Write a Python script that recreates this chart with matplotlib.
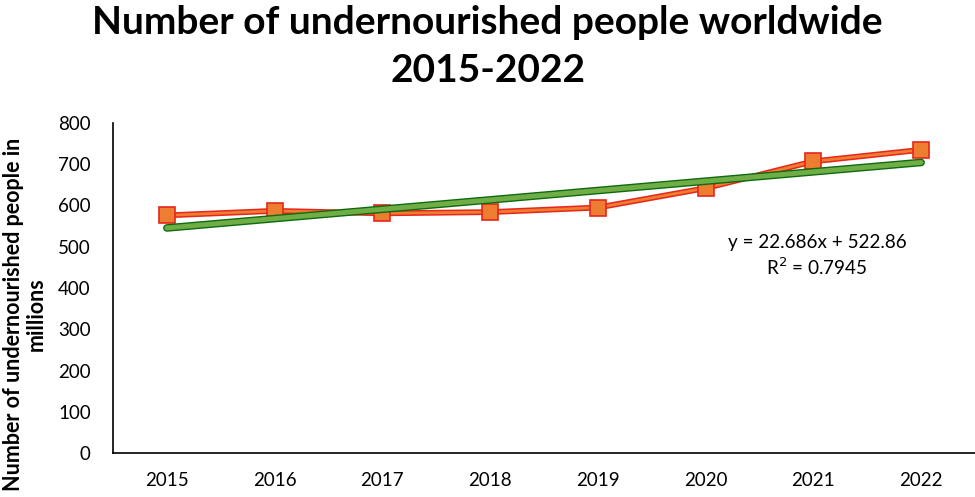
import matplotlib
matplotlib.use("Agg")
import matplotlib.pyplot as plt
import numpy as np

# data (millions)
years = ["2015", "2016", "2017", "2018", "2019", "2020", "2021", "2022"]
people = [576, 587, 581, 584, 595, 642, 707, 735]
# linear trendline as printed on the chart
trend_slope = 22.686
trend_intercept = 522.86

plt.rcParams['font.family'] = ['Lato', 'DejaVu Sans']

fig = plt.figure(figsize=(9.75, 4.97), dpi=100)
ax = fig.add_axes([113/975, 1-453/497, 1-113/975, (453-123)/497])

x = np.arange(len(years))
# series: red outline with orange core, square markers
ax.plot(x, people, color='#E8261C', lw=4.2, solid_capstyle='butt', zorder=2)
ax.plot(x, people, color='#ED7D31', lw=2.0, marker='s', markersize=12,
        markerfacecolor='#ED7D31', markeredgecolor='#E8261C', markeredgewidth=1.2, zorder=3)

# trendline
xt = np.array([0, len(years) - 1])
yt = trend_slope * (xt + 1) + trend_intercept
ax.plot(xt, yt, color='#0E6B0E', lw=5.5, solid_capstyle='round', zorder=4)
ax.plot(xt, yt, color='#70AD47', lw=3.5, solid_capstyle='round', zorder=5)

ax.set_xlim(-0.5, len(years) - 0.5)
ax.set_ylim(0, 800)
ax.set_yticks(range(0, 801, 100))
ax.set_xticks(x)
ax.set_xticklabels(years)
ax.tick_params(axis='both', length=0, labelsize=13.5)
ax.tick_params(axis='y', pad=16)
ax.tick_params(axis='x', pad=14)
for s in ['top', 'right']:
    ax.spines[s].set_visible(False)
for s in ['left', 'bottom']:
    ax.spines[s].set_linewidth(1.2)
    ax.spines[s].set_color('black')

ax.text((817-113)/(975-113), 1-(256-123)/330,
        "y = 22.686x + 522.86\nR$^2$ = 0.7945", transform=ax.transAxes,
        ha='center', va='center', fontsize=13.6, linespacing=1.3)

fig.text(0.5, 1-22/497, "Number of undernourished people worldwide",
         ha='center', va='center', fontsize=28, fontweight='bold')
fig.text(0.5, 1-70/497, "2015-2022",
         ha='center', va='center', fontsize=28, fontweight='bold')

fig.text(25/975, 1-314/497, "Number of undernourished people in\nmillions",
         rotation=90, ha='center', va='center', fontsize=15.5, fontweight='bold',
         multialignment='center', linespacing=1.1)

fig.savefig("out.png", dpi=100)
